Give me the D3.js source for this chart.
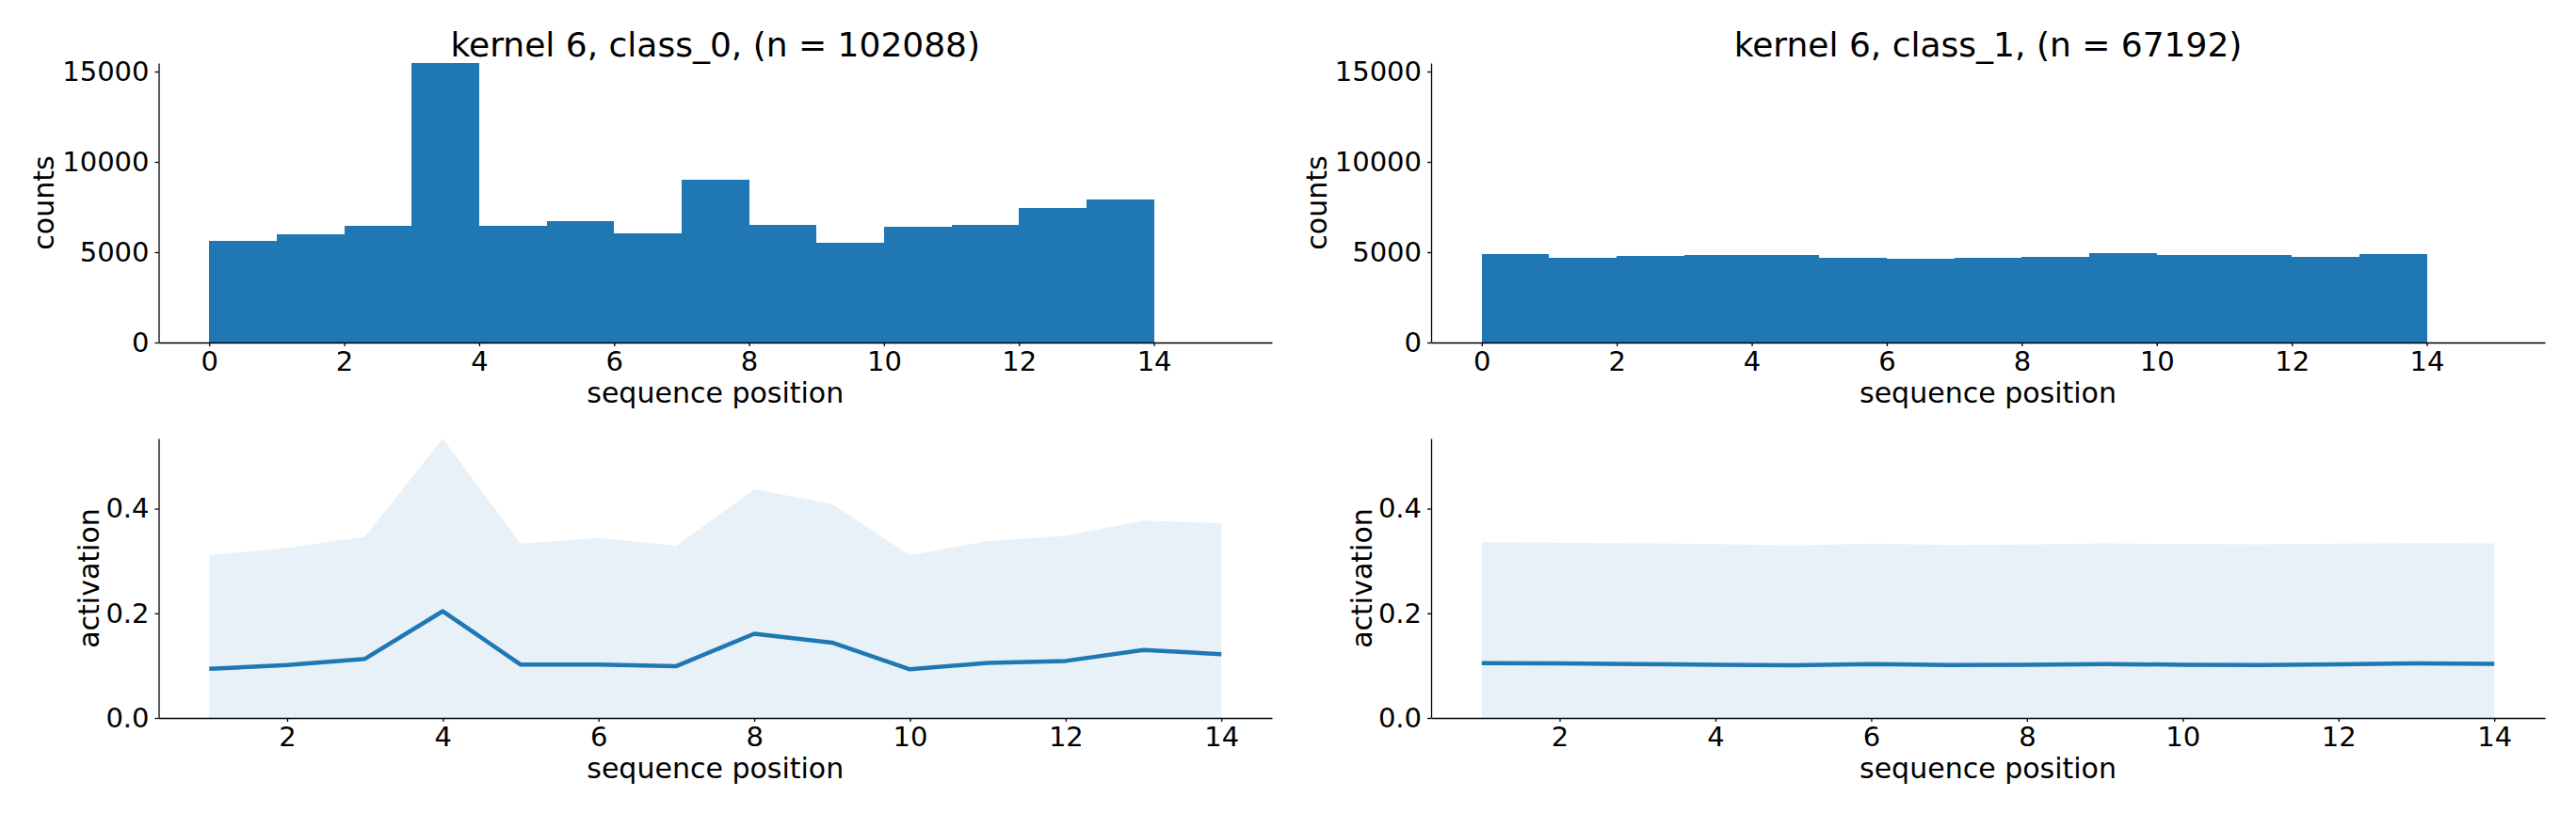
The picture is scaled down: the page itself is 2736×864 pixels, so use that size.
<!DOCTYPE html>
<html>
<head>
<meta charset="utf-8">
<script src="https://cdn.jsdelivr.net/npm/d3@7"></script>
<style>
  html, body { margin: 0; padding: 0; background: #fff; }
  svg { display: block; }
  text { font-family: "DejaVu Sans", sans-serif; fill: #000; }
</style>
</head>
<body>
<svg id="chart" width="2736" height="864"></svg>
<script>
// ---- data ----
const titles = ["kernel 6, class_0, (n = 102088)", "kernel 6, class_1, (n = 67192)"];
const binEdgesStart = [0,1,2,3,4,5,6,7,8,9,10,11,12,13];
const countsClass0 = [5625, 6007, 6476, 15470, 6458, 6719, 6059, 9010, 6510, 5538, 6406, 6510, 7465, 7934];
const countsClass1 = [4896, 4688, 4792, 4844, 4844, 4688, 4635, 4688, 4740, 4948, 4844, 4844, 4740, 4896];
const positions = [1,2,3,4,5,6,7,8,9,10,11,12,13,14];
const meanClass0 = [0.094, 0.101, 0.113, 0.204, 0.102, 0.102, 0.099, 0.161, 0.144, 0.093, 0.105, 0.109, 0.130, 0.122];
const upperClass0 = [0.311, 0.325, 0.346, 0.534, 0.333, 0.344, 0.329, 0.437, 0.409, 0.311, 0.338, 0.348, 0.377, 0.372];
const meanClass1 = [0.1048, 0.1042, 0.1030, 0.1018, 0.1006, 0.1030, 0.1012, 0.1018, 0.1030, 0.1018, 0.1012, 0.1024, 0.1042, 0.1036];
const upperClass1 = [0.3359, 0.3347, 0.3335, 0.3323, 0.3293, 0.3329, 0.3305, 0.3311, 0.3335, 0.3323, 0.3317, 0.3329, 0.3341, 0.3335];
const histXTicks = [0,2,4,6,8,10,12,14];
const histYTicks = [0,5000,10000,15000];
const lineXTicks = [2,4,6,8,10,12,14];
const lineYTicks = [0.0,0.2,0.4];

// ---- layout ----
const svg = d3.select("#chart");
const color = "#1f77b4";
const panelsX = [[168.5, 1351], [1520, 2703]];
const topY = [67, 364];
const botY = [466, 763];
const tickFont = 29, labelFont = 30, titleFont = 36;

const histMax = d3.max(countsClass0.concat(countsClass1));
const actMax = d3.max(upperClass0.concat(upperClass1));

const histData = [countsClass0, countsClass1];
const meanData = [meanClass0, meanClass1];
const upperData = [upperClass0, upperClass1];

function styleAxis(g) {
  g.selectAll(".domain").attr("stroke", "#000").attr("stroke-width", 1.3);
  g.selectAll(".tick line").attr("stroke", "#000").attr("stroke-width", 1.3);
  g.selectAll(".tick text").attr("font-size", tickFont).attr("font-family", "DejaVu Sans").attr("fill", "#000");
}

for (let p = 0; p < 2; p++) {
  const [xl, xr] = panelsX[p];

  // ---- top histogram ----
  const x = d3.scaleLinear().domain([-0.75, 15.75]).range([xl, xr]);
  const y = d3.scaleLinear().domain([0, histMax]).range([topY[1], topY[0]]);
  const gTop = svg.append("g");
  gTop.selectAll("rect").data(histData[p]).join("rect")
    .attr("x", (d, i) => x(binEdgesStart[i]))
    .attr("width", (d, i) => x(binEdgesStart[i] + 1) - x(binEdgesStart[i]))
    .attr("y", d => y(d))
    .attr("height", d => y(0) - y(d))
    .attr("fill", color)
    .attr("shape-rendering", "crispEdges");

  const gx = svg.append("g").attr("transform", `translate(0,${topY[1]})`)
    .call(d3.axisBottom(x).tickValues(histXTicks).tickFormat(d3.format("d")).tickSize(4).tickPadding(5).tickSizeOuter(0));
  styleAxis(gx);
  const gy = svg.append("g").attr("transform", `translate(${xl},0)`)
    .call(d3.axisLeft(y).tickValues(histYTicks).tickFormat(d3.format("d")).tickSize(4).tickPadding(6).tickSizeOuter(0));
  styleAxis(gy);

  svg.append("text").attr("x", (xl + xr) / 2).attr("y", 59.5)
    .attr("text-anchor", "middle").attr("font-size", titleFont).text(titles[p]);
  svg.append("text").attr("x", (xl + xr) / 2).attr("y", topY[1] + 64)
    .attr("text-anchor", "middle").attr("font-size", labelFont).text("sequence position");
  svg.append("text").attr("transform", `translate(${xl - 111.5},${(topY[0] + topY[1]) / 2}) rotate(-90)`)
    .attr("text-anchor", "middle").attr("font-size", labelFont).text("counts");

  // ---- bottom activation ----
  const x2 = d3.scaleLinear().domain([0.35, 14.65]).range([xl, xr]);
  const y2 = d3.scaleLinear().domain([0, actMax]).range([botY[1], botY[0]]);

  const area = d3.area()
    .x((d, i) => x2(positions[i]))
    .y0(y2(0))
    .y1(d => y2(d));
  svg.append("path").datum(upperData[p])
    .attr("d", area).attr("fill", color).attr("fill-opacity", 0.1);

  const line = d3.line()
    .x((d, i) => x2(positions[i]))
    .y(d => y2(d));
  svg.append("path").datum(meanData[p])
    .attr("d", line).attr("fill", "none").attr("stroke", color)
    .attr("stroke-width", 4.5).attr("stroke-linejoin", "round");

  const gx2 = svg.append("g").attr("transform", `translate(0,${botY[1]})`)
    .call(d3.axisBottom(x2).tickValues(lineXTicks).tickFormat(d3.format("d")).tickSize(4).tickPadding(5).tickSizeOuter(0));
  styleAxis(gx2);
  const gy2 = svg.append("g").attr("transform", `translate(${xl},0)`)
    .call(d3.axisLeft(y2).tickValues(lineYTicks).tickFormat(d3.format(".1f")).tickSize(4).tickPadding(6).tickSizeOuter(0));
  styleAxis(gy2);

  svg.append("text").attr("x", (xl + xr) / 2).attr("y", botY[1] + 64)
    .attr("text-anchor", "middle").attr("font-size", labelFont).text("sequence position");
  svg.append("text").attr("transform", `translate(${xl - 63.5},${(botY[0] + botY[1]) / 2}) rotate(-90)`)
    .attr("text-anchor", "middle").attr("font-size", labelFont).text("activation");
}
</script>
</body>
</html>
